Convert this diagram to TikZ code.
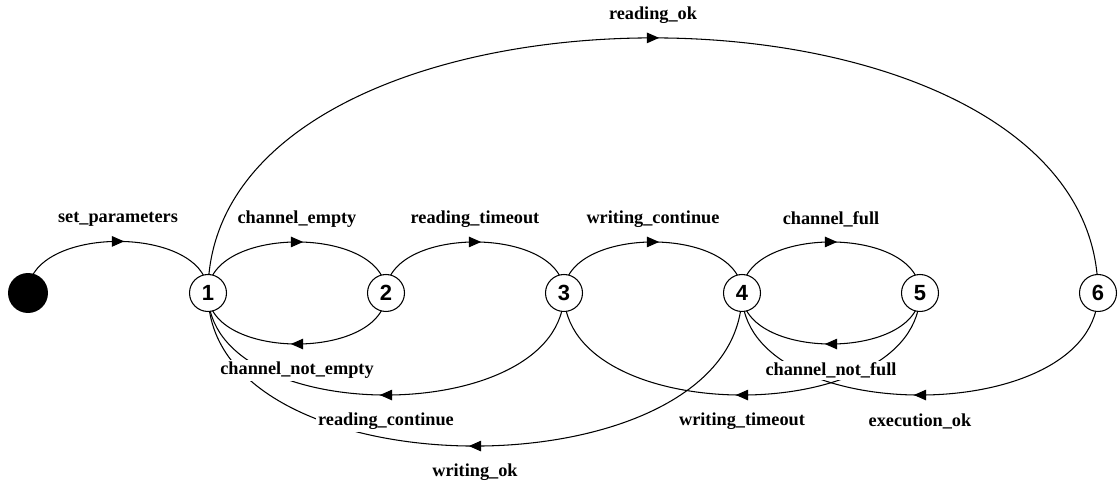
\documentclass[tikz,border=0pt]{standalone}
\usepackage{fontspec}
\setmainfont{Liberation Serif}
\newfontfamily\numfont{Liberation Sans}
\usetikzlibrary{arrows.meta,decorations.markings,backgrounds}

\tikzset{
  state/.style={circle, draw, fill=white, line width=0.6pt, minimum size=0.74cm,
    inner sep=0pt, font=\numfont\bfseries\fontsize{12.5}{14}\selectfont},
  startstate/.style={circle, fill=black, minimum size=0.8cm, inner sep=0pt},
  trans/.style={line width=0.6pt, looseness=0.98, postaction={decorate},
    decoration={markings, mark=at position 0.5 with
      {\arrow[xshift=3.5pt]{Triangle[length=7pt,width=6pt]}}}},
  over/.style={trans, out=90, in=90},
  under/.style={trans, out=-90, in=-90},
  lbl/.style={fill=white, inner sep=1.2pt, font=\bfseries\fontsize{10.4}{12}\selectfont},
  lblup/.style={lbl, midway, yshift=0.45cm},
  lbldown/.style={lbl, midway, yshift=-0.53cm}
}

\begin{document}
\begin{tikzpicture}[x=0.02cm, y=0.02cm]
  \useasboundingbox (0,-190) rectangle (1120,293);

  % Etats
  \node[startstate] (s0) at (28,0) {};
  \foreach \i in {1,...,6} {
    \node[state] (s\i) at ({208+178*(\i-1)},0) {\i};
  }

  % Transitions (derriere les etats)
  \begin{scope}[on background layer]
    \draw[over] (s0.center) to node[lblup] {set\_parameters} (s1.center);
    \draw[over] (s1.center) to node[lblup] {channel\_empty} (s2.center);
    \draw[over] (s2.center) to node[lblup] {reading\_timeout} (s3.center);
    \draw[over] (s3.center) to node[lblup] {writing\_continue} (s4.center);
    \draw[over] (s4.center) to node[lblup] {channel\_full} (s5.center);
    \draw[over] (s1.center) to node[lblup] {reading\_ok} (s6.center);

    % retours vers 1
    \draw[under] (s4.center) to node[lbldown] {writing\_ok} (s1.center);
    \draw[under] (s3.center) to node[lbldown] {reading\_continue} (s1.center);
    \draw[under] (s2.center) to node[lbldown] {channel\_not\_empty} (s1.center);

    % retours vers 3 et 4
    \draw[under] (s6.center) to node[lbldown] {execution\_ok} (s4.center);
    \draw[under] (s5.center) to node[lbldown] {writing\_timeout} (s3.center);
    \draw[under] (s5.center) to node[lbldown] {channel\_not\_full} (s4.center);
  \end{scope}

\end{tikzpicture}
\end{document}
